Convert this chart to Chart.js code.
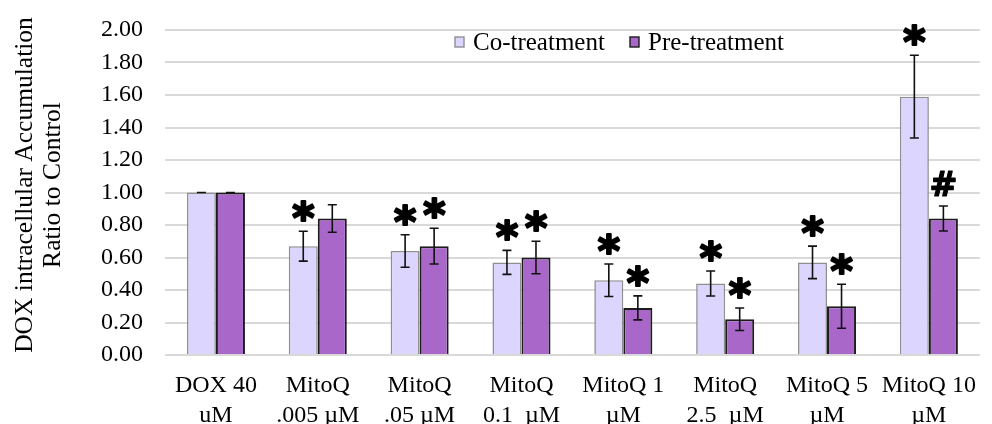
<!DOCTYPE html>
<html>
<head>
<meta charset="utf-8">
<script src="https://cdn.jsdelivr.net/npm/chart.js@4/dist/chart.umd.min.js"></script>
<style>
  html, body { margin: 0; padding: 0; background: #ffffff; }
  #wrap { width: 992px; height: 424px; }
</style>
</head>
<body>
<div id="wrap"><canvas id="chart" width="992" height="424"></canvas></div>
<script>
// Treatment groups (two-line axis labels)
const categories = [
  ["DOX 40", "uM"],
  ["MitoQ", ".005 µM"],
  ["MitoQ", ".05 µM"],
  ["MitoQ", "0.1  µM"],
  ["MitoQ 1", "µM"],
  ["MitoQ", "2.5  µM"],
  ["MitoQ 5", "µM"],
  ["MitoQ 10", "µM"]
];

// DOX accumulation ratio to control, means and error (±)
const coTreatment    = [1.00, 0.67, 0.64, 0.57, 0.46, 0.44, 0.57, 1.59];
const coTreatmentErr = [0.00, 0.092, 0.10, 0.074, 0.10, 0.077, 0.10, 0.255];
const preTreatment    = [1.00, 0.84, 0.67, 0.60, 0.29, 0.22, 0.30, 0.84];
const preTreatmentErr = [0.00, 0.085, 0.11, 0.10, 0.074, 0.069, 0.135, 0.077];

// Significance markers above each bar
const coMarks  = ["", "*", "*", "*", "*", "*", "*", "*"];
const preMarks = ["", "", "*", "*", "*", "*", "*", "#"];

// Y axis tick labels
const yTickLabels = ["0.00", "0.20", "0.40", "0.60", "0.80", "1.00", "1.20", "1.40", "1.60", "1.80", "2.00"];

const SERIF = "'Liberation Serif', 'Times New Roman', serif";

// Error bars drawn from the y scale
const errorBars = {
  id: 'errorBars',
  afterDatasetsDraw(chart) {
    const ctx = chart.ctx;
    const y = chart.scales.y;
    chart.data.datasets.forEach((ds, di) => {
      const meta = chart.getDatasetMeta(di);
      meta.data.forEach((bar, i) => {
        const v = ds.data[i], e = ds.errors[i];
        const yTop = y.getPixelForValue(v + e);
        const yBot = y.getPixelForValue(v - e);
        ctx.save();
        ctx.strokeStyle = '#111111';
        ctx.lineWidth = 1.6;
        ctx.beginPath();
        ctx.moveTo(bar.x, yTop); ctx.lineTo(bar.x, yBot);
        ctx.moveTo(bar.x - 4.5, yTop); ctx.lineTo(bar.x + 4.5, yTop);
        ctx.moveTo(bar.x - 4.5, yBot); ctx.lineTo(bar.x + 4.5, yBot);
        ctx.stroke();
        ctx.restore();
      });
    });
  }
};

// Heavy glyph sized so its ink box has the requested height
function glyphFont(ctx, ch, family, targetH) {
  ctx.font = "bold 100px " + family;
  const t = ctx.measureText(ch);
  const h = t.actualBoundingBoxAscent + t.actualBoundingBoxDescent;
  return "bold " + (100 * targetH / h).toFixed(1) + "px " + family;
}

// Significance symbols placed above the error bar caps
const sigMarks = {
  id: 'sigMarks',
  afterDatasetsDraw(chart) {
    const ctx = chart.ctx;
    const y = chart.scales.y;
    chart.data.datasets.forEach((ds, di) => {
      const meta = chart.getDatasetMeta(di);
      meta.data.forEach((bar, i) => {
        const m = ds.marks[i];
        if (!m) return;
        const top = y.getPixelForValue(ds.data[i] + ds.errors[i]);
        ctx.save();
        ctx.font = m === '*'
          ? glyphFont(ctx, '*', "'DejaVu Sans', sans-serif", 20)
          : glyphFont(ctx, '#', "'DejaVu Sans', sans-serif", 24);
        const tm = ctx.measureText(m);
        const bottom = top - 10;
        const glyphW = tm.actualBoundingBoxLeft + tm.actualBoundingBoxRight;
        const xPos = bar.x - glyphW / 2 + tm.actualBoundingBoxLeft;
        const yPos = bottom - tm.actualBoundingBoxDescent;
        ctx.fillStyle = '#000000';
        ctx.strokeStyle = '#000000';
        ctx.lineWidth = m === '*' ? 2.2 : 1.2;
        ctx.lineJoin = 'round';
        ctx.textAlign = 'left';
        ctx.textBaseline = 'alphabetic';
        ctx.fillText(m, xPos, yPos);
        ctx.strokeText(m, xPos, yPos);
        ctx.restore();
      });
    });
  }
};

// Legend inside the plot area and the rotated y axis title
const decorations = {
  id: 'decorations',
  afterDraw(chart) {
    const ctx = chart.ctx;
    ctx.save();
    ctx.fillStyle = '#000000';
    ctx.font = "25.5px " + SERIF;
    ctx.textAlign = 'center';
    ctx.textBaseline = 'middle';
    ctx.translate(0, 185);
    ctx.rotate(-Math.PI / 2);
    ctx.fillText('DOX intracellular Accumulation', 0, 25);
    ctx.fillText('Ratio to Control', 0, 53);
    ctx.restore();

    const items = chart.data.datasets.map(ds => ({
      label: ds.label, fill: ds.backgroundColor, stroke: ds.borderColor
    }));
    const xs = [455, 630];
    ctx.save();
    ctx.font = "25px " + SERIF;
    ctx.textBaseline = 'middle';
    ctx.textAlign = 'left';
    items.forEach((it, k) => {
      const bx = xs[k], by = 37;
      ctx.fillStyle = it.fill;
      ctx.fillRect(bx, by, 9, 10);
      ctx.strokeStyle = it.stroke;
      ctx.lineWidth = 1.4;
      ctx.strokeRect(bx, by, 9, 10);
      ctx.fillStyle = '#000000';
      ctx.fillText(it.label, bx + 18, 43);
    });
    ctx.restore();
  }
};

new Chart(document.getElementById('chart'), {
  type: 'bar',
  data: {
    labels: categories,
    datasets: [
      {
        label: 'Co-treatment',
        data: coTreatment,
        errors: coTreatmentErr,
        marks: coMarks,
        backgroundColor: '#DCD5FD',
        borderColor: '#8f8f8f',
        borderWidth: 1.6,
        categoryPercentage: 0.57,
        barPercentage: 1.0
      },
      {
        label: 'Pre-treatment',
        data: preTreatment,
        errors: preTreatmentErr,
        marks: preMarks,
        backgroundColor: '#A968C9',
        borderColor: '#1c1c1c',
        borderWidth: 2,
        categoryPercentage: 0.57,
        barPercentage: 1.0
      }
    ]
  },
  options: {
    responsive: false,
    animation: false,
    devicePixelRatio: 1,
    layout: { padding: { top: 30, right: 2, left: 0, bottom: 0 } },
    plugins: {
      legend: { display: false },
      tooltip: { enabled: false }
    },
    scales: {
      x: {
        grid: { display: false, drawTicks: false },
        border: { display: false },
        ticks: {
          color: '#000000',
          font: { family: SERIF, size: 24, lineHeight: 1.25 },
          padding: 16,
          maxRotation: 0,
          autoSkip: false
        },
        afterFit(scale) { scale.height = 69; }
      },
      y: {
        min: 0,
        max: 2,
        grid: { color: '#d9d9d9', lineWidth: 2, drawTicks: false },
        border: { display: false },
        ticks: {
          stepSize: 0.2,
          color: '#000000',
          font: { family: SERIF, size: 24 },
          padding: 22,
          callback: (v, i) => yTickLabels[i]
        },
        afterFit(scale) {
          scale.width = 165;
          scale.paddingTop = 0;
          scale.paddingBottom = 0;
        }
      }
    }
  },
  plugins: [errorBars, sigMarks, decorations]
});
</script>
</body>
</html>
